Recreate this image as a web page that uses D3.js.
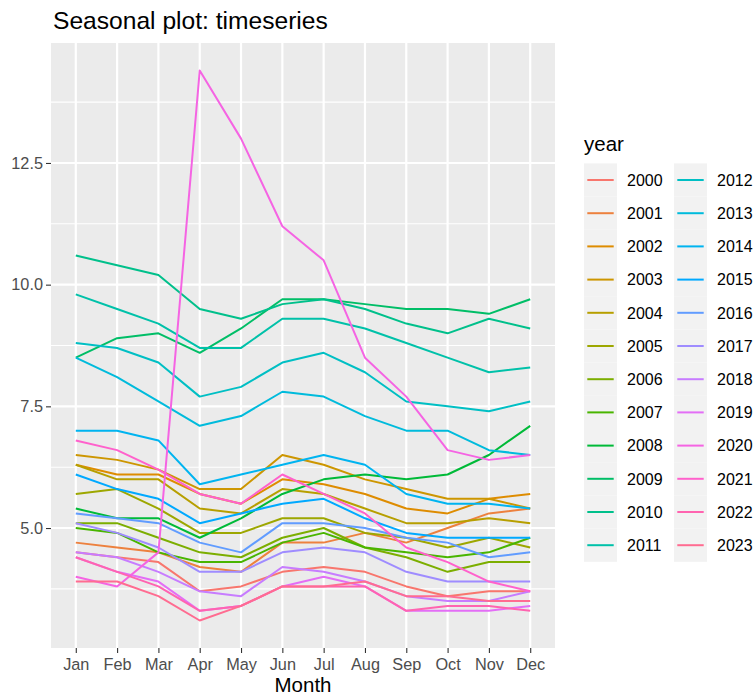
<!DOCTYPE html>
<html>
<head>
<meta charset="utf-8">
<script src="https://cdn.jsdelivr.net/npm/d3@7"></script>
<style>
  html, body { margin: 0; padding: 0; background: #ffffff; }
  svg { display: block; }
  text { font-family: "Liberation Sans", Arial, Helvetica, sans-serif; }
</style>
</head>
<body>
<svg id="chart" width="756" height="697"></svg>
<script>
// ---------------- data ----------------
const months = ["Jan","Feb","Mar","Apr","May","Jun","Jul","Aug","Sep","Oct","Nov","Dec"];
const years = ["2000","2001","2002","2003","2004","2005","2006","2007","2008","2009","2010","2011",
               "2012","2013","2014","2015","2016","2017","2018","2019","2020","2021","2022","2023"];
const y2000 = [4.5, 4.4, 4.3, 3.7, 3.8, 4.1, 4.2, 4.1, 3.8, 3.6, 3.7, 3.7];
const y2001 = [4.7, 4.6, 4.5, 4.2, 4.1, 4.7, 4.7, 4.9, 4.7, 5.0, 5.3, 5.4];
const y2002 = [6.3, 6.1, 6.1, 5.7, 5.5, 6.0, 5.9, 5.7, 5.4, 5.3, 5.6, 5.7];
const y2003 = [6.5, 6.4, 6.2, 5.8, 5.8, 6.5, 6.3, 6.0, 5.8, 5.6, 5.6, 5.4];
const y2004 = [6.3, 6.0, 6.0, 5.4, 5.3, 5.8, 5.7, 5.4, 5.1, 5.1, 5.2, 5.1];
const y2005 = [5.7, 5.8, 5.4, 4.9, 4.9, 5.2, 5.2, 4.9, 4.8, 4.6, 4.8, 4.6];
const y2006 = [5.1, 5.1, 4.8, 4.5, 4.4, 4.8, 5.0, 4.6, 4.4, 4.1, 4.3, 4.3];
const y2007 = [5.0, 4.9, 4.5, 4.3, 4.3, 4.7, 4.9, 4.6, 4.5, 4.4, 4.5, 4.8];
const y2008 = [5.4, 5.2, 5.2, 4.8, 5.2, 5.7, 6.0, 6.1, 6.0, 6.1, 6.5, 7.1];
const y2009 = [8.5, 8.9, 9.0, 8.6, 9.1, 9.7, 9.7, 9.6, 9.5, 9.5, 9.4, 9.7];
const y2010 = [10.6, 10.4, 10.2, 9.5, 9.3, 9.6, 9.7, 9.5, 9.2, 9.0, 9.3, 9.1];
const y2011 = [9.8, 9.5, 9.2, 8.7, 8.7, 9.3, 9.3, 9.1, 8.8, 8.5, 8.2, 8.3];
const y2012 = [8.8, 8.7, 8.4, 7.7, 7.9, 8.4, 8.6, 8.2, 7.6, 7.5, 7.4, 7.6];
const y2013 = [8.5, 8.1, 7.6, 7.1, 7.3, 7.8, 7.7, 7.3, 7.0, 7.0, 6.6, 6.5];
const y2014 = [7.0, 7.0, 6.8, 5.9, 6.1, 6.3, 6.5, 6.3, 5.7, 5.5, 5.5, 5.4];
const y2015 = [6.1, 5.8, 5.6, 5.1, 5.3, 5.5, 5.6, 5.2, 4.9, 4.8, 4.8, 4.8];
const y2016 = [5.3, 5.2, 5.1, 4.7, 4.5, 5.1, 5.1, 5.0, 4.8, 4.7, 4.4, 4.5];
const y2017 = [5.1, 4.9, 4.6, 4.1, 4.1, 4.5, 4.6, 4.5, 4.1, 3.9, 3.9, 3.9];
const y2018 = [4.5, 4.4, 4.1, 3.7, 3.6, 4.2, 4.1, 3.9, 3.6, 3.5, 3.5, 3.7];
const y2019 = [4.4, 4.1, 3.9, 3.3, 3.4, 3.8, 4.0, 3.8, 3.3, 3.3, 3.3, 3.4];
const y2020 = [4.0, 3.8, 4.5, 14.4, 13.0, 11.2, 10.5, 8.5, 7.7, 6.6, 6.4, 6.5];
const y2021 = [6.8, 6.6, 6.2, 5.7, 5.5, 6.1, 5.7, 5.3, 4.6, 4.3, 3.9, 3.7];
const y2022 = [4.4, 4.1, 3.8, 3.3, 3.4, 3.8, 3.8, 3.8, 3.3, 3.4, 3.4, 3.3];
const y2023 = [3.9, 3.9, 3.6, 3.1, 3.4, 3.8, 3.8, 3.9, 3.6, 3.6, 3.5, 3.5];
const yTicks = [5, 7.5, 10, 12.5];
const yTickLabels = ["5.0", "7.5", "10.0", "12.5"];
const yMinor = [3.75, 6.25, 8.75, 11.25, 13.75];
const titleText = "Seasonal plot: timeseries";
const xTitle = "Month";
const legendTitle = "year";

const seriesValues = [y2000,y2001,y2002,y2003,y2004,y2005,y2006,y2007,y2008,y2009,y2010,y2011,
                      y2012,y2013,y2014,y2015,y2016,y2017,y2018,y2019,y2020,y2021,y2022,y2023];
const series = years.map((yr, i) => ({
  year: yr,
  points: months.map((m, j) => ({ month: m, value: seriesValues[i][j] }))
}));

// ---------------- ggplot hue palette (polar LUV) ----------------
function hclLuv(h, c, l) {
  const hr = h * Math.PI / 180;
  const U = c * Math.cos(hr), V = c * Math.sin(hr);
  const Xn = 95.047, Yn = 100.0, Zn = 108.883;
  const den = Xn + 15 * Yn + 3 * Zn;
  const un = 4 * Xn / den, vn = 9 * Yn / den;
  const Y = l > 8 ? Yn * Math.pow((l + 16) / 116, 3) : Yn * l / 903.3;
  const u = U / (13 * l) + un, v = V / (13 * l) + vn;
  const X = 9 * Y * u / (4 * v);
  const Z = Y * (12 - 3 * u - 20 * v) / (4 * v);
  const x = X / 100, y = Y / 100, z = Z / 100;
  let r = 3.240479 * x - 1.537150 * y - 0.498535 * z;
  let g = -0.969256 * x + 1.875992 * y + 0.041556 * z;
  let b = 0.055648 * x - 0.204043 * y + 1.057311 * z;
  const gam = t => t <= 0.0031308 ? 12.92 * t : 1.055 * Math.pow(t, 1 / 2.4) - 0.055;
  const cl = t => Math.max(0, Math.min(255, Math.round(255 * gam(Math.max(0, t)))));
  return d3.rgb(cl(r), cl(g), cl(b)).formatHex();
}
const nCol = years.length;
const palette = years.map((_, i) => hclLuv(15 + 360 * i / nCol, 100, 65));
const color = d3.scaleOrdinal(years, palette);

// ---------------- layout ----------------
const svg = d3.select("#chart");
svg.append("rect").attr("width", 756).attr("height", 697).attr("fill", "#ffffff");

const panel = { left: 51, right: 555, top: 43, bottom: 648 };

const allVals = seriesValues.flat();
const vMin = d3.min(allVals), vMax = d3.max(allVals);
const expand = 0.05 * (vMax - vMin);

const x = d3.scalePoint().domain(months).range([panel.left, panel.right]).padding(0.6);
const y = d3.scaleLinear().domain([vMin - expand, vMax + expand]).range([panel.bottom, panel.top]);

// panel background
svg.append("rect")
  .attr("x", panel.left).attr("y", panel.top)
  .attr("width", panel.right - panel.left).attr("height", panel.bottom - panel.top)
  .attr("fill", "#EBEBEB");

// minor grid
svg.append("g").selectAll("line").data(yMinor.filter(v => v > y.domain()[0] && v < y.domain()[1]))
  .join("line")
  .attr("x1", panel.left).attr("x2", panel.right)
  .attr("y1", d => y(d)).attr("y2", d => y(d))
  .attr("stroke", "#ffffff").attr("stroke-width", 1.1);

// major grid
svg.append("g").selectAll("line").data(yTicks).join("line")
  .attr("x1", panel.left).attr("x2", panel.right)
  .attr("y1", d => y(d)).attr("y2", d => y(d))
  .attr("stroke", "#ffffff").attr("stroke-width", 2.2);
svg.append("g").selectAll("line").data(months).join("line")
  .attr("x1", d => x(d)).attr("x2", d => x(d))
  .attr("y1", panel.top).attr("y2", panel.bottom)
  .attr("stroke", "#ffffff").attr("stroke-width", 2.2);

// lines
const line = d3.line().x(d => x(d.month)).y(d => y(d.value));
svg.append("g").selectAll("path").data(series).join("path")
  .attr("d", d => line(d.points))
  .attr("fill", "none")
  .attr("stroke", d => color(d.year))
  .attr("stroke-width", 2)
  .attr("stroke-linejoin", "round");

// y axis
const yAxis = d3.axisLeft(y).tickValues(yTicks)
  .tickFormat((d, i) => yTickLabels[i]).tickSize(5).tickPadding(3);
const gy = svg.append("g").attr("transform", `translate(${panel.left},0)`).call(yAxis);
gy.select(".domain").remove();
gy.selectAll(".tick line").attr("stroke", "#333333").attr("stroke-width", 1.1);
gy.selectAll(".tick text").attr("fill", "#4D4D4D").style("font-size", "16.3px")
  .style("font-family", "'Liberation Sans', Arial, sans-serif");

// x axis
const xAxis = d3.axisBottom(x).tickSize(5).tickPadding(5);
const gx = svg.append("g").attr("transform", `translate(0,${panel.bottom})`).call(xAxis);
gx.select(".domain").remove();
gx.selectAll(".tick line").attr("stroke", "#333333").attr("stroke-width", 1.1);
gx.selectAll(".tick text").attr("fill", "#4D4D4D").style("font-size", "16.3px")
  .style("font-family", "'Liberation Sans', Arial, sans-serif");

// axis title
svg.append("text")
  .attr("x", (panel.left + panel.right) / 2).attr("y", 692)
  .attr("text-anchor", "middle")
  .attr("fill", "#000000").style("font-size", "20.5px")
  .text(xTitle);

// plot title
svg.append("text")
  .attr("x", panel.left + 2).attr("y", 29)
  .attr("fill", "#000000").style("font-size", "24.6px")
  .text(titleText);

// ---------------- legend ----------------
const legend = { left: 584, titleY: 151, top: 163.4, keyW: 33, keyH: 33.2, colGap: 90, rows: 12 };
svg.append("text")
  .attr("x", legend.left).attr("y", legend.titleY)
  .attr("fill", "#000000").style("font-size", "20.5px")
  .text(legendTitle);

const items = svg.append("g").selectAll("g").data(years).join("g")
  .attr("transform", (d, i) => {
    const col = Math.floor(i / legend.rows), row = i % legend.rows;
    return `translate(${legend.left + col * legend.colGap},${legend.top + row * legend.keyH})`;
  });
items.append("rect")
  .attr("width", legend.keyW).attr("height", legend.keyH)
  .attr("fill", "#F2F2F2");
items.append("line")
  .attr("x1", legend.keyW * 0.1).attr("x2", legend.keyW * 0.9)
  .attr("y1", legend.keyH / 2).attr("y2", legend.keyH / 2)
  .attr("stroke", d => color(d)).attr("stroke-width", 2);
items.append("text")
  .attr("x", legend.keyW + 10).attr("y", legend.keyH / 2)
  .attr("dy", "0.36em")
  .attr("fill", "#000000").style("font-size", "16px")
  .text(d => d);
</script>
</body>
</html>
